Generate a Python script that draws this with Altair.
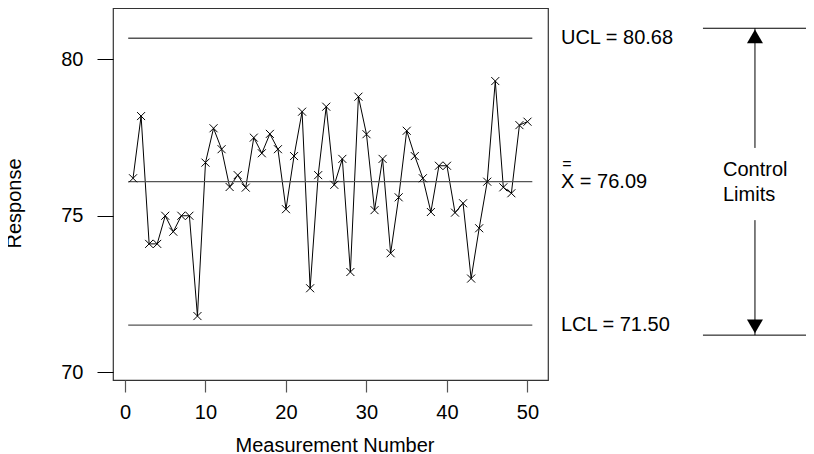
import altair as alt
import pandas as pd

# ---- data ----
measurement = list(range(1, 51))
response = [76.20, 78.19, 74.10, 74.10, 75.00, 74.49, 75.00, 75.00, 71.79, 76.70,
            77.80, 77.13, 75.92, 76.30, 75.90, 77.50, 77.00, 77.62, 77.13, 75.21,
            76.91, 78.33, 72.68, 76.30, 78.49, 75.99, 76.82, 73.20, 78.81, 77.61,
            75.18, 76.82, 73.80, 75.59, 77.72, 76.91, 76.20, 75.12, 76.60, 76.60,
            75.10, 75.40, 72.99, 74.60, 76.09, 79.31, 75.91, 75.72, 77.90, 78.01]

limit_values = [80.68, 76.09, 71.50]
limit_labels = ["UCL = 80.68", "X = 76.09", "LCL = 71.50"]
limit_start = 0.4
limit_end = 50.6
label_x = 54.16

# double bar over the X of the centre-line label
xbar_pos = [54.91]
xbar_y = [76.66]

# "Control Limits" annotation (in data units of the chart)
bracket_x = [71.8, 86.0]
bracket_y = [81.0, 71.18]
arrow_x = 78.26
arrow_from = [81.0, 74.86]
arrow_to = [77.17, 71.18]
head_y = [80.74, 71.46]
head_shape = ["triangle-up", "triangle-down"]
note_text = ["Control", "Limits"]
note_x = 74.29
note_y = [76.45, 75.65]

x_ticks = [0, 10, 20, 30, 40, 50]
y_ticks = [70, 75, 80]
x_domain = [-1.49, 52.55]
y_domain = [69.744, 81.648]

FONT = "Liberation Sans"
X_SCALE = alt.Scale(domain=x_domain, nice=False, zero=False)
Y_SCALE = alt.Scale(domain=y_domain, nice=False, zero=False)

df = pd.DataFrame({"m": measurement, "r": response})
df_lim = pd.DataFrame({"v": limit_values, "label": limit_labels,
                       "x0": [limit_start] * 3, "x1": [limit_end] * 3,
                       "lx": [label_x] * 3})
df_bar = pd.DataFrame({"x": xbar_pos, "y": xbar_y, "t": ["="]})
df_brk = pd.DataFrame({"y": bracket_y, "x0": [bracket_x[0]] * 2, "x1": [bracket_x[1]] * 2})
df_arr = pd.DataFrame({"x": [arrow_x] * 2, "y0": arrow_from, "y1": arrow_to})
df_head = pd.DataFrame({"x": [arrow_x] * 2, "y": head_y, "s": head_shape})
df_note = pd.DataFrame({"x": [note_x] * 2, "y": note_y, "t": note_text})

x_axis = alt.Axis(values=x_ticks, title="Measurement Number", domain=False, grid=False,
                  tickSize=12, tickColor="#555", tickWidth=1.2, labelPadding=10,
                  labelFontSize=20, labelFont=FONT, labelColor="black", labelFlush=False,
                  titleFontSize=20, titleFont=FONT, titleFontWeight="normal", titleColor="black",
                  titleX=221.5, titleY=71.5, titleBaseline="alphabetic", titleAlign="center")
y_axis = alt.Axis(values=y_ticks, title="Response", domain=False, grid=False,
                  tickSize=16, tickColor="black", tickWidth=1, labelPadding=14,
                  labelFontSize=20, labelFont=FONT, labelColor="black", labelFlush=False,
                  titleFontSize=20, titleFont=FONT, titleFontWeight="normal", titleColor="black",
                  titleAngle=-90, titleX=-93, titleY=195, titleBaseline="alphabetic",
                  titleAlign="center")

line = alt.Chart(df).mark_line(color="black", strokeWidth=1).encode(
    x=alt.X("m:Q", scale=X_SCALE, axis=x_axis),
    y=alt.Y("r:Q", scale=Y_SCALE, axis=y_axis),
)
pts = alt.Chart(df).mark_point(shape="M-1,-1L1,1M-1,1L1,-1", filled=False, size=64,
                               color="black", strokeWidth=1, opacity=1).encode(
    x=alt.X("m:Q", scale=X_SCALE),
    y=alt.Y("r:Q", scale=Y_SCALE),
)
limits = alt.Chart(df_lim).mark_rule(color="#555", strokeWidth=1.3).encode(
    x=alt.X("x0:Q", scale=X_SCALE), x2="x1:Q",
    y=alt.Y("v:Q", scale=Y_SCALE),
)
limit_text = alt.Chart(df_lim).mark_text(align="left", baseline="middle", fontSize=20,
                                         font=FONT, color="black").encode(
    x=alt.X("lx:Q", scale=X_SCALE),
    y=alt.Y("v:Q", scale=Y_SCALE),
    text="label:N",
)
xbar = alt.Chart(df_bar).mark_text(align="center", baseline="middle", fontSize=16,
                                   font=FONT, color="black").encode(
    x=alt.X("x:Q", scale=X_SCALE),
    y=alt.Y("y:Q", scale=Y_SCALE),
    text="t:N",
)
bracket = alt.Chart(df_brk).mark_rule(color="black", strokeWidth=1).encode(
    x=alt.X("x0:Q", scale=X_SCALE), x2="x1:Q",
    y=alt.Y("y:Q", scale=Y_SCALE),
)
arrows = alt.Chart(df_arr).mark_rule(color="black", strokeWidth=1).encode(
    x=alt.X("x:Q", scale=X_SCALE),
    y=alt.Y("y0:Q", scale=Y_SCALE), y2="y1:Q",
)
heads = alt.Chart(df_head).mark_point(filled=True, size=256, color="black", opacity=1).encode(
    x=alt.X("x:Q", scale=X_SCALE),
    y=alt.Y("y:Q", scale=Y_SCALE),
    shape=alt.Shape("s:N", scale=None),
)
note = alt.Chart(df_note).mark_text(align="left", baseline="middle", fontSize=20,
                                    font=FONT, color="black").encode(
    x=alt.X("x:Q", scale=X_SCALE),
    y=alt.Y("y:Q", scale=Y_SCALE),
    text="t:N",
)

chart = alt.layer(line, limits, pts, limit_text, xbar, bracket, arrows, heads, note).properties(
    width=435, height=372,
    autosize=alt.AutoSizeParams(type="none"),
    padding={"left": 105, "top": 0, "right": 258, "bottom": 74},
    background="white",
).configure_view(stroke="#333", strokeWidth=1.2)

chart.save("out.html", embed_options={"renderer": "svg", "actions": False})
